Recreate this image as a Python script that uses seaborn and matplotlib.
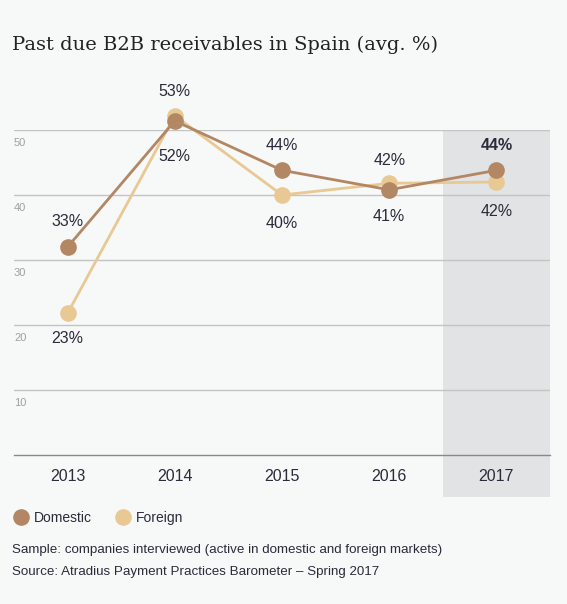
import pandas as pd
import matplotlib.pyplot as plt
import seaborn as sns
from matplotlib.lines import Line2D

# data
years = ["2013", "2014", "2015", "2016", "2017"]
domestic = [32.0, 51.4, 43.8, 40.8, 43.8]
foreign = [21.8, 52.2, 40.0, 41.8, 42.0]
domestic_labels = ["33%", "52%", "44%", "41%", "44%"]
foreign_labels = ["23%", "53%", "40%", "42%", "42%"]
y_ticks = [10, 20, 30, 40, 50]

DOM_COLOR = "#b38763"
FOR_COLOR = "#e8c994"
BG = "#f7f8f8"
TEXT = "#2b2b3a"


def main():
    sns.set_theme(style="white")
    plt.rcParams["font.family"] = ["Liberation Sans", "DejaVu Sans"]

    fig = plt.figure(figsize=(5.67, 6.04), dpi=100, facecolor=BG)
    ax = fig.add_axes([14 / 567, 1 - 455 / 604, 536 / 567, 325 / 604])
    ax.set_facecolor(BG)

    df = pd.DataFrame({"year": years, "Domestic": domestic, "Foreign": foreign})
    df["x"] = range(len(years))

    # highlight last year
    ax.axvspan(3.5, 4.5, ymin=-0.13, ymax=1, color="#e2e3e5", zorder=0, clip_on=False, lw=0)

    for v in y_ticks:
        ax.axhline(v, color="#c4c4c4", lw=1, zorder=1)
        ax.text(0.0, v - 1.3, str(v), transform=ax.get_yaxis_transform(),
                ha="left", va="top", fontsize=8, color="#a0a0a0")

    sns.lineplot(data=df, x="x", y="Foreign", color=FOR_COLOR, lw=2, marker="o",
                 markersize=12, markeredgewidth=0, ax=ax, zorder=3, clip_on=False)
    sns.lineplot(data=df, x="x", y="Domestic", color=DOM_COLOR, lw=2, marker="o",
                 markersize=12, markeredgewidth=0, ax=ax, zorder=4, clip_on=False)

    # label offsets in pixels: positive = above
    dom_off = [26, -36, 25, -27, 25]
    for_off = [-25, 24, -28, 23, -29]
    for i in range(len(years)):
        ax.annotate(domestic_labels[i], (i, domestic[i]), xytext=(0, dom_off[i] * 0.72),
                    textcoords="offset points", ha="center", va="center",
                    fontsize=11.5, color=TEXT, zorder=5, annotation_clip=False,
                    fontweight="bold" if i == len(years) - 1 else "normal")
        ax.annotate(foreign_labels[i], (i, foreign[i]), xytext=(0, for_off[i] * 0.72),
                    textcoords="offset points", ha="center", va="center",
                    fontsize=11.5, color=TEXT, zorder=5, annotation_clip=False)

    ax.set_xlim(-0.5, 4.5)
    ax.set_ylim(0, 50)
    ax.set_yticks([])
    ax.set_xticks(df["x"])
    ax.set_xticklabels(years, fontsize=11.5, color=TEXT)
    ax.tick_params(axis="x", direction="in", length=4, width=1, color="#888888", pad=10)
    ax.set_xlabel("")
    ax.set_ylabel("")
    for s in ["top", "left", "right"]:
        ax.spines[s].set_visible(False)
    ax.spines["bottom"].set_color("#888888")
    ax.spines["bottom"].set_linewidth(1)

    fig.text(12 / 567, 1 - 45 / 604, "Past due B2B receivables in Spain (avg. %)",
             family="DejaVu Serif", fontsize=14, color="#222222", va="center")

    handles = [
        Line2D([], [], marker="o", ls="", color=DOM_COLOR, markersize=12, markeredgewidth=0),
        Line2D([], [], marker="o", ls="", color=FOR_COLOR, markersize=12, markeredgewidth=0),
    ]
    fig.legend(handles, ["Domestic", "Foreign"], loc="center left",
               bbox_to_anchor=(14 / 567, 1 - 518 / 604), ncol=2, frameon=False,
               fontsize=10, handlelength=1.0, handletextpad=0.4, borderpad=0,
               borderaxespad=0, columnspacing=1.8, labelcolor=TEXT)

    fig.text(12 / 567, 1 - 550 / 604,
             "Sample: companies interviewed (active in domestic and foreign markets)",
             fontsize=9.6, color=TEXT, va="center")
    fig.text(12 / 567, 1 - 572 / 604,
             "Source: Atradius Payment Practices Barometer \u2013 Spring 2017",
             fontsize=9.6, color=TEXT, va="center")

    fig.savefig("out.png", dpi=100, facecolor=BG)


if __name__ == "__main__":
    main()
